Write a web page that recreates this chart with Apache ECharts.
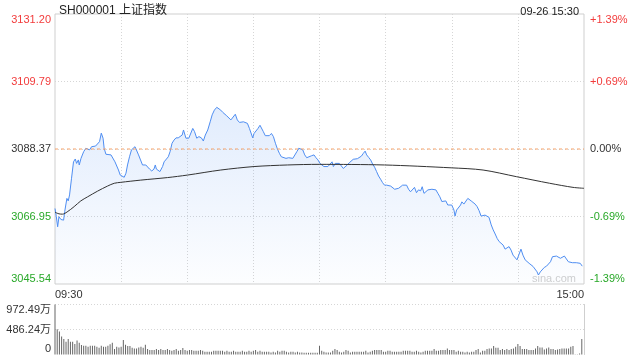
<!DOCTYPE html>
<html>
<head>
<meta charset="utf-8">
<script src="https://cdn.jsdelivr.net/npm/echarts@6/dist/echarts.min.js"></script>
<style>
  html, body { margin: 0; padding: 0; background: #fff; }
  #chart { width: 640px; height: 360px; }
</style>
</head>
<body>
<div id="chart"></div>
<script>
// 分时: [minute from 09:30, price]
const pricePts = [
  [0, 3069.5], [0.6, 3066.9], [1.2, 3063.7], [1.8, 3066.9], [2.7, 3066.0], [3.9, 3065.8],
  [4.4, 3068.5], [5.4, 3072.7], [6.0, 3071.9], [6.6, 3073.8], [7.5, 3079.1], [8.4, 3084.3],
  [9.2, 3085.2], [9.8, 3083.8], [10.6, 3084.9], [11.0, 3083.3], [11.8, 3085.4], [13.0, 3087.5],
  [14.0, 3088.6], [14.8, 3088.4], [15.7, 3088.1], [16.6, 3089.1], [17.5, 3089.6], [18.4, 3089.3],
  [19.3, 3088.8], [20.2, 3090.7], [21.0, 3093.4], [21.8, 3091.8], [22.3, 3088.6], [23.1, 3086.7],
  [23.8, 3086.5], [25.4, 3086.5], [26.3, 3085.9], [27.2, 3084.3], [28.1, 3083.8], [28.8, 3081.7],
  [29.6, 3080.1], [30.4, 3079.6], [31.4, 3079.4], [32.2, 3080.7], [32.9, 3083.3], [33.8, 3085.9],
  [34.7, 3088.1], [36.3, 3089.1], [37.2, 3088.6], [37.9, 3086.5], [38.8, 3084.9], [39.7, 3083.3],
  [40.6, 3083.8], [41.2, 3083.3], [42.1, 3082.8], [42.9, 3082.0], [43.9, 3081.4], [44.9, 3082.0],
  [45.5, 3083.3], [46.0, 3082.0], [46.9, 3081.6], [47.6, 3081.2], [48.1, 3080.7], [48.8, 3082.8],
  [49.5, 3084.3], [50.4, 3084.9], [51.4, 3085.9], [52.2, 3087.5], [53.1, 3090.2], [54.0, 3091.2],
  [54.9, 3091.9], [55.9, 3091.9], [56.8, 3091.8], [57.7, 3092.8], [58.3, 3094.4], [59.4, 3091.8],
  [60.7, 3091.8], [61.6, 3092.3], [62.5, 3094.9], [63.3, 3093.9], [64.3, 3091.8], [65.3, 3092.3],
  [66.4, 3091.9], [67.3, 3090.9], [68.2, 3092.8], [69.3, 3094.4], [70.4, 3097.0], [71.3, 3099.2],
  [72.3, 3100.7], [73.4, 3101.6], [74.3, 3101.5], [75.2, 3100.7], [76.1, 3100.0], [77.0, 3099.4],
  [77.9, 3098.9], [78.8, 3098.6], [79.8, 3097.6], [80.7, 3098.1], [81.8, 3099.4], [82.7, 3097.6],
  [83.7, 3096.8], [84.6, 3096.2], [85.5, 3097.0], [86.4, 3097.6], [87.3, 3096.5], [88.2, 3094.9],
  [89.0, 3094.4], [89.7, 3091.9], [90.3, 3093.3], [91.2, 3093.9], [92.1, 3094.9], [93.0, 3095.9],
  [93.6, 3095.4], [94.5, 3093.9], [95.4, 3092.6], [96.3, 3092.3], [97.2, 3092.6], [98.2, 3093.3],
  [99.1, 3092.3], [100.0, 3090.2], [100.9, 3088.4], [101.8, 3087.0], [102.7, 3085.9], [103.6, 3085.4],
  [104.8, 3085.4], [106.0, 3085.6], [106.9, 3085.9], [107.9, 3085.4], [108.8, 3085.9], [109.7, 3087.5],
  [110.6, 3088.6], [111.5, 3088.6], [112.4, 3088.1], [113.3, 3086.5], [114.2, 3085.6], [115.1, 3085.9],
  [116.3, 3086.2], [117.5, 3086.5], [118.4, 3085.6], [119.3, 3084.9], [120.2, 3083.8], [121.1, 3083.6],
  [122.0, 3082.8], [122.9, 3083.3], [123.8, 3082.8], [124.7, 3083.3], [125.7, 3084.3], [126.3, 3082.8],
  [127.2, 3083.8], [128.1, 3084.3], [129.0, 3083.8], [129.9, 3083.3], [130.8, 3082.2], [131.7, 3081.9],
  [132.6, 3083.3], [133.5, 3084.0], [134.4, 3083.8], [135.3, 3085.1], [136.2, 3085.1], [137.2, 3085.3],
  [138.1, 3085.7], [139.0, 3086.1], [139.9, 3087.0], [140.7, 3087.7], [141.4, 3086.5], [142.3, 3085.7],
  [143.2, 3084.9], [144.1, 3083.6], [145.0, 3082.6], [145.9, 3081.2], [146.8, 3079.8], [147.7, 3078.8],
  [148.6, 3077.7], [149.5, 3076.9], [150.5, 3076.9], [151.4, 3077.2], [152.3, 3076.6], [153.2, 3076.2],
  [154.1, 3075.6], [155.0, 3075.9], [155.9, 3075.9], [156.8, 3076.2], [157.7, 3076.9], [158.6, 3077.5],
  [159.5, 3076.9], [160.4, 3075.6], [161.3, 3074.8], [162.2, 3075.4], [163.1, 3076.2], [164.0, 3074.5],
  [164.9, 3075.4], [165.9, 3075.1], [166.6, 3076.4], [167.4, 3074.3], [168.3, 3074.8], [169.2, 3075.4],
  [170.1, 3075.1], [171.0, 3075.6], [171.9, 3076.2], [172.8, 3075.4], [173.7, 3074.3], [174.6, 3073.2],
  [175.5, 3071.7], [176.4, 3071.1], [177.3, 3071.9], [178.2, 3070.6], [179.1, 3071.2], [180.0, 3070.6],
  [181.0, 3069.0], [181.5, 3067.1], [182.2, 3069.0], [183.1, 3069.6], [184.0, 3070.6], [184.6, 3071.6],
  [185.5, 3070.9], [186.4, 3071.1], [187.3, 3072.7], [187.9, 3073.0], [188.8, 3071.9], [189.7, 3071.3],
  [190.6, 3070.9], [191.5, 3070.1], [192.4, 3068.8], [193.3, 3067.1], [194.2, 3067.1], [195.1, 3067.4],
  [196.0, 3067.1], [196.9, 3066.7], [197.9, 3064.3], [198.8, 3062.7], [199.7, 3061.4], [200.6, 3060.0],
  [201.5, 3059.0], [202.4, 3058.6], [203.3, 3057.9], [204.2, 3056.6], [205.1, 3056.3], [206.0, 3057.4],
  [206.9, 3056.3], [207.8, 3054.7], [208.7, 3054.2], [209.6, 3053.2], [210.5, 3052.9], [211.4, 3056.6],
  [212.3, 3054.7], [213.3, 3053.2], [214.2, 3052.6], [215.1, 3052.1], [216.0, 3051.9], [216.9, 3051.1],
  [217.8, 3050.5], [218.7, 3049.4], [219.3, 3048.4], [220.2, 3049.4], [221.1, 3049.8], [222.0, 3050.8],
  [223.0, 3051.2], [223.9, 3051.0], [224.8, 3052.6], [225.7, 3054.2], [226.6, 3054.7], [227.5, 3054.4],
  [228.4, 3054.0], [229.3, 3053.7], [230.2, 3053.7], [231.1, 3054.4], [232.0, 3054.2], [232.9, 3052.6],
  [233.8, 3052.3], [234.7, 3052.3], [235.6, 3052.4], [236.5, 3052.3], [237.4, 3052.3], [238.3, 3052.1],
  [239.2, 3051.2]
]

// 均价线
const avgPts = [
  [0, 3068.3], [1.8, 3067.8], [3.4, 3067.7], [5.5, 3068.4], [8.7, 3070.1], [11.7, 3071.9],
  [14.8, 3073.2], [19.3, 3075.0], [23.8, 3076.6], [26.9, 3077.5], [29.9, 3077.8], [38.9, 3078.5],
  [51.0, 3079.3], [60.1, 3080.1], [75.2, 3081.7], [90.3, 3082.8], [105.4, 3083.3], [119.9, 3083.5],
  [149.5, 3083.3], [179.7, 3082.4], [194.2, 3081.7], [209.3, 3079.6], [224.4, 3077.5], [235.0, 3076.2],
  [240, 3075.9]
]

// 成交量 (万), one per minute, 09:30 .. 15:00
const volumes = [
  972, 493, 447, 349, 302, 250, 302, 250, 250, 204,
  270, 230, 184, 171, 171, 151, 171, 171, 171, 151,
  132, 171, 151, 151, 171, 197, 230, 105, 151, 138,
  151, 283, 191, 164, 164, 132, 118, 118, 138, 151,
  132, 191, 105, 86, 86, 86, 105, 86, 105, 86,
  86, 105, 86, 72, 86, 105, 72, 86, 125, 86,
  72, 86, 86, 72, 72, 72, 86, 72, 53, 53,
  53, 53, 72, 72, 72, 72, 72, 53, 72, 53,
  53, 72, 53, 53, 53, 72, 53, 53, 72, 53,
  72, 86, 53, 72, 53, 53, 53, 53, 39, 53,
  39, 72, 53, 72, 72, 53, 39, 53, 53, 39,
  53, 39, 39, 33, 33, 33, 33, 33, 33, 33,
  171,
  72, 53, 39, 39, 39, 72, 105, 86, 53, 39,
  53, 86, 72, 39, 53, 53, 53, 53, 53, 53,
  72, 39, 53, 72, 86, 86, 86, 86, 53, 53,
  72, 72, 53, 53, 53, 53, 53, 72, 72, 72,
  72, 53, 53, 72, 53, 39, 53, 72, 72, 72,
  72, 105, 72, 72, 86, 86, 86, 118, 86, 86,
  86, 53, 72, 53, 53, 39, 53, 39, 53, 53,
  86, 105, 39, 72, 72, 105, 118, 118, 164, 132,
  132, 86, 105, 86, 105, 86, 105, 118, 151, 204,
  164, 105, 105, 105, 86, 86, 86, 118, 164, 138,
  138, 99, 118, 138, 105, 105, 86, 99, 105, 118,
  118, 118, 118, 151, 164, 7, 7, 20, 303
]

const preClose = 3088.37
const priceTicks = ['3045.54', '3066.95', '3088.37', '3109.79', '3131.20']
const pctTicks = ['-1.39%', '-0.69%', '0.00%', '+0.69%', '+1.39%']
const volTicks = ['0', '486.24万', '972.49万']

const red = '#f23b3b'
const green = '#28a828'
const tickColors = [green, green, '#333', red, red]
const font = 'Liberation Sans, Arial, Noto Sans CJK SC, sans-serif'

let chart = echarts.init(document.getElementById('chart'))

let priceAxis = {
  type: 'value',
  gridIndex: 0,
  min: 3045.54,
  max: 3131.20,
  interval: 21.415,
  axisLine: { show: false },
  axisTick: { show: false },
  splitLine: {
    show: true,
    showMinLine: false,
    showMaxLine: false,
    lineStyle: { color: '#d6d6d6', type: [1, 2] }
  },
  axisLabel: {
    fontSize: 11,
    fontFamily: font,
    margin: 4,
    verticalAlignMaxLabel: 'top',
    verticalAlignMinLabel: 'bottom',
    formatter: function (v, i) { return priceTicks[i] },
    color: function (v, i) { return tickColors[i] }
  }
}

let option = {
  backgroundColor: '#fff',
  animation: false,
  textStyle: { fontFamily: font },
  title: [
    {
      text: 'SH000001 上证指数',
      left: 54,
      top: 0,
      textStyle: { fontSize: 12, fontWeight: 'normal', color: '#222', fontFamily: font }
    },
    {
      text: '09-26 15:30',
      right: 56,
      top: 1,
      textStyle: { fontSize: 11, fontWeight: 'normal', color: '#222', fontFamily: font }
    }
  ],
  graphic: [
    {
      type: 'text',
      left: 532,
      top: 273,
      style: { text: 'sina.com', fill: '#cfcfcf', fontSize: 11, fontFamily: font }
    }
  ],
  grid: [
    { left: 55, top: 14, width: 529, height: 270, show: true, borderColor: '#cfcfcf', borderWidth: 1 },
    { left: 55, top: 304.5, width: 529, height: 50 }
  ],
  xAxis: [
    {
      type: 'value',
      gridIndex: 0,
      min: 0,
      max: 240,
      interval: 30,
      axisLine: { show: false },
      axisTick: { show: false },
      splitLine: {
        show: true,
        showMinLine: false,
        showMaxLine: false,
        lineStyle: { color: '#d6d6d6', type: [1, 2] }
      },
      axisLabel: {
        fontSize: 11,
        fontFamily: font,
        color: '#333',
        margin: 5,
        alignMinLabel: 'left',
        alignMaxLabel: 'right',
        formatter: function (v) {
          if (v === 0) return '09:30'
          if (v === 240) return '15:00'
          return ''
        }
      }
    },
    {
      type: 'value',
      gridIndex: 1,
      min: 0,
      max: 240,
      show: false
    }
  ],
  yAxis: [
    priceAxis,
    Object.assign({}, priceAxis, {
      position: 'right',
      splitLine: { show: false },
      axisLabel: Object.assign({}, priceAxis.axisLabel, {
        margin: 6,
        formatter: function (v, i) { return pctTicks[i] }
      })
    }),
    {
      type: 'value',
      gridIndex: 1,
      min: 0,
      max: 972.49,
      interval: 486.245,
      axisLine: { show: false },
      axisTick: { show: false },
      splitLine: {
        show: true,
        showMinLine: false,
        lineStyle: { color: '#d6d6d6', type: [1, 2] }
      },
      axisLabel: {
        fontSize: 11,
        fontFamily: font,
        color: '#333',
        margin: 4,
        verticalAlignMaxLabel: 'top',
        verticalAlignMinLabel: 'bottom',
        formatter: function (v, i) { return volTicks[i] }
      }
    },
    {
      type: 'value',
      gridIndex: 1,
      position: 'right',
      min: 0,
      max: 972.49,
      axisLine: { show: true, lineStyle: { color: '#cfcfcf' } },
      axisTick: { show: false },
      axisLabel: { show: false },
      splitLine: { show: false }
    }
  ],
  series: [
    {
      name: '价格',
      type: 'line',
      xAxisIndex: 0,
      yAxisIndex: 0,
      data: pricePts,
      showSymbol: false,
      z: 3,
      lineStyle: { color: '#4f8ef2', width: 1 },
      areaStyle: {
        origin: 'start',
        color: new echarts.graphic.LinearGradient(0, 0, 0, 1, [
          { offset: 0, color: 'rgba(79, 142, 242, 0.24)' },
          { offset: 1, color: 'rgba(79, 142, 242, 0.02)' }
        ])
      }
    },
    {
      // 昨收
      name: '昨收',
      type: 'line',
      xAxisIndex: 0,
      yAxisIndex: 0,
      data: [[0, preClose], [240, preClose]],
      showSymbol: false,
      silent: true,
      z: 4,
      lineStyle: { color: '#f7a36b', type: [3, 3], width: 1 }
    },
    {
      name: '均价',
      type: 'line',
      xAxisIndex: 0,
      yAxisIndex: 0,
      data: avgPts,
      smooth: 0.3,
      showSymbol: false,
      z: 5,
      lineStyle: { color: '#333', width: 1 }
    },
    {
      name: '成交量',
      type: 'bar',
      xAxisIndex: 1,
      yAxisIndex: 2,
      barWidth: 1,
      data: volumes.map(function (v, i) { return [i, v] }),
      itemStyle: { color: '#666' }
    }
  ]
}

chart.setOption(option)
</script>
</body>
</html>
